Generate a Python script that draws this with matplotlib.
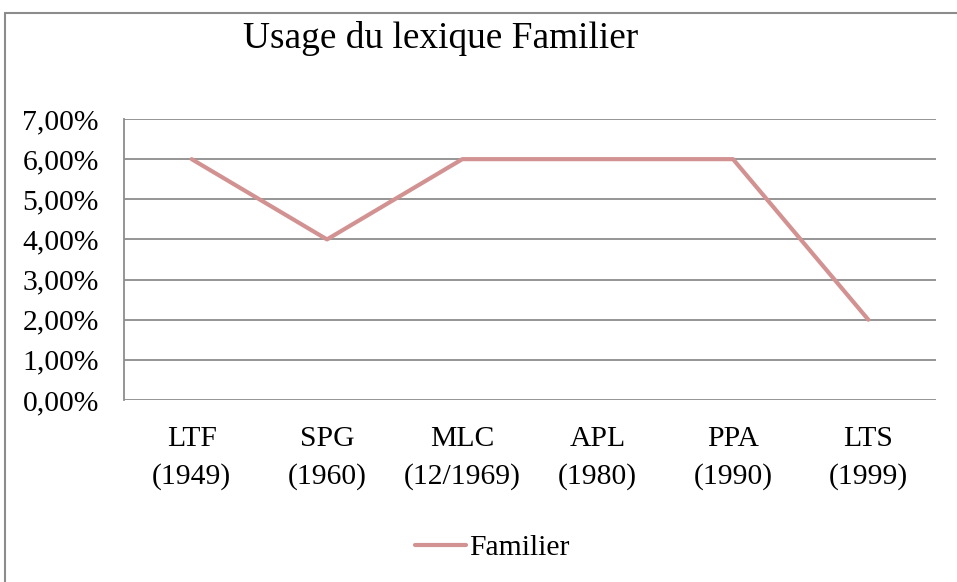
#!/usr/bin/env python3
# Usage du lexique Familier - line chart, Excel-style
import matplotlib.pyplot as plt
from matplotlib.patches import Rectangle
from matplotlib.ticker import FuncFormatter

categories = ["LTF\n(1949)", "SPG\n(1960)", "MLC\n(12/1969)", "APL\n(1980)", "PPA\n(1990)", "LTS\n(1999)"]
familier = [0.06, 0.04, 0.06, 0.06, 0.06, 0.02]
y_ticks = [0.0, 0.01, 0.02, 0.03, 0.04, 0.05, 0.06, 0.07]

LINE = "#D39292"
GRID = "#8C8C8C"
FS = 21.3

plt.rcParams["font.family"] = ["Liberation Serif", "DejaVu Serif"]

W, H = 957, 582
fig = plt.figure(figsize=(W / 100, H / 100), dpi=100)

# outer chart frame (runs off right/bottom edge like the reference)
fig.patches.append(Rectangle((5 / W, -0.05), 1.1, 1 - 12.5 / H + 0.05, transform=fig.transFigure,
                             fill=False, edgecolor="#8C8C8C", linewidth=1.5))

ax = fig.add_axes([124 / W, 1 - 400 / H, (936 - 124) / W, (400 - 119) / H])
x = range(len(categories))
ax.plot(x, familier, color=LINE, linewidth=3.0, solid_capstyle="round", label="Familier")

ax.set_xlim(-0.5, len(categories) - 0.5)
ax.set_ylim(0, 0.07)
ax.set_yticks(y_ticks)
ax.yaxis.set_major_formatter(FuncFormatter(lambda v, p: f"{v * 100:.2f}%".replace(".", ",")))
ax.set_xticks(list(x))
ax.set_xticklabels(categories, linespacing=1.5)
ax.tick_params(axis="both", length=0, labelsize=FS, colors="black")
ax.tick_params(axis="x", pad=19)
ax.tick_params(axis="y", pad=18)

ax.grid(axis="y", color=GRID, linewidth=1.3)
ax.set_axisbelow(True)
for s in ["top", "right", "bottom"]:
    ax.spines[s].set_visible(False)
ax.spines["left"].set_color(GRID)
ax.spines["left"].set_linewidth(1.3)

fig.text(441 / W, 1 - 39 / H, "Usage du lexique Familier", ha="center", va="center", fontsize=26.9)

fig.legend(loc="center", bbox_to_anchor=(492 / W, 1 - 548 / H), frameon=False, fontsize=FS,
           handlelength=1.75, handletextpad=0.08)

fig.savefig("out.png", dpi=100)
